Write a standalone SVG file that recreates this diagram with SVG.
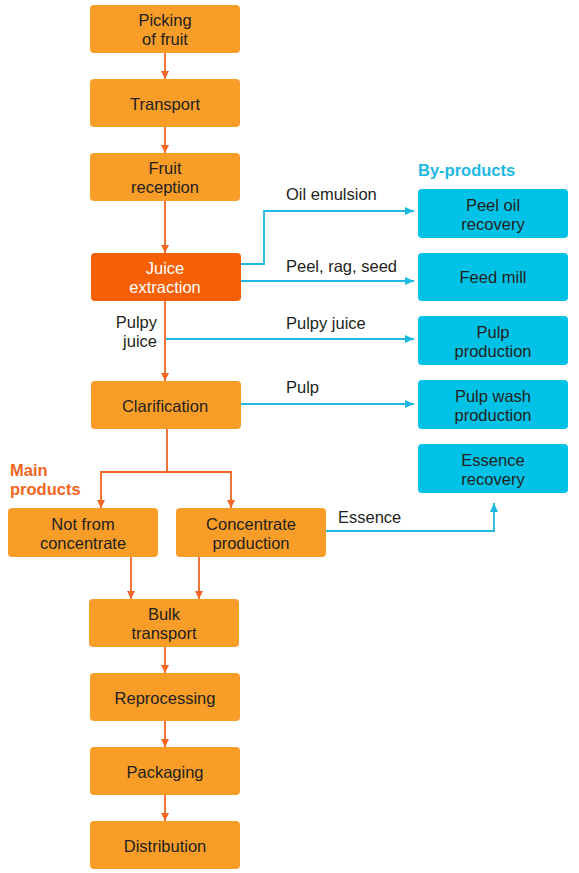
<svg xmlns="http://www.w3.org/2000/svg" width="579" height="873" viewBox="0 0 579 873">
<defs>
<style>
.bo{fill:#F89D27;}
.bx{fill:#F65F04;}
.bc{fill:#00C2E6;}
text{font-family:"Liberation Sans",Arial,sans-serif;font-size:16.5px;fill:#231F20;}
.c{text-anchor:middle;}
.w{fill:#FFFFFF;}
.ol{stroke:#F26522;stroke-width:1.8;fill:none;}
.cl{stroke:#1DB9E2;stroke-width:1.8;fill:none;}
.ho{fill:#F26522;font-weight:bold;}
.hc{fill:#1DB9E2;font-weight:bold;}
</style>
<marker id="ao" markerWidth="8" markerHeight="8" refX="8" refY="4" orient="auto" markerUnits="userSpaceOnUse"><path d="M0,0 L8,4 L0,8 Z" fill="#F26522"/></marker>
<marker id="ac" markerWidth="9" markerHeight="8" refX="9" refY="4" orient="auto" markerUnits="userSpaceOnUse"><path d="M0,0 L9,4 L0,8 Z" fill="#1DB9E2"/></marker>
</defs>
<rect width="579" height="873" fill="#FFFFFF"/>
<g id="connectors">
<line class="ol" x1="165" y1="53" x2="165" y2="79" marker-end="url(#ao)"/>
<line class="ol" x1="165" y1="127" x2="165" y2="153" marker-end="url(#ao)"/>
<line class="ol" x1="165" y1="201" x2="165" y2="253" marker-end="url(#ao)"/>
<line class="ol" x1="165" y1="301" x2="165" y2="381" marker-end="url(#ao)"/>
<polyline class="ol" points="167,429 167,472 101,472 101,508" marker-end="url(#ao)"/>
<polyline class="ol" points="167,472 231,472 231,508" marker-end="url(#ao)"/>
<line class="ol" x1="131" y1="557" x2="131" y2="599" marker-end="url(#ao)"/>
<line class="ol" x1="199" y1="557" x2="199" y2="599" marker-end="url(#ao)"/>
<line class="ol" x1="165" y1="647" x2="165" y2="673" marker-end="url(#ao)"/>
<line class="ol" x1="165" y1="721" x2="165" y2="747" marker-end="url(#ao)"/>
<line class="ol" x1="165" y1="795" x2="165" y2="821" marker-end="url(#ao)"/>
<polyline class="cl" points="241,264 264,264 264,211 414,211" marker-end="url(#ac)"/>
<line class="cl" x1="241" y1="281" x2="414" y2="281" marker-end="url(#ac)"/>
<line class="cl" x1="166" y1="339" x2="414" y2="339" marker-end="url(#ac)"/>
<line class="cl" x1="241" y1="404" x2="414" y2="404" marker-end="url(#ac)"/>
<polyline class="cl" points="326,531 494,531 494,503" marker-end="url(#ac)"/>
<text x="286" y="200">Oil emulsion</text>
<text x="286" y="272">Peel, rag, seed</text>
<text x="286" y="329">Pulpy juice</text>
<text x="286" y="393">Pulp</text>
<text x="338" y="523">Essence</text>
<text text-anchor="end"><tspan x="157" y="328">Pulpy</tspan><tspan x="157" y="347">juice</tspan></text>
</g>
<text class="hc" x="418" y="176">By-products</text>
<text class="ho"><tspan x="10" y="476">Main</tspan><tspan x="10" y="495">products</tspan></text>
<g id="n-picking"><rect class="bo" x="90" y="5" width="150" height="48" rx="4"/><text class="c"><tspan x="165" y="26">Picking</tspan><tspan x="165" y="45">of fruit</tspan></text></g>
<g id="n-transport"><rect class="bo" x="90" y="79" width="150" height="48" rx="4"/><text class="c" x="165" y="110">Transport</text></g>
<g id="n-reception"><rect class="bo" x="90" y="153" width="150" height="48" rx="4"/><text class="c"><tspan x="165" y="174">Fruit</tspan><tspan x="165" y="193">reception</tspan></text></g>
<g id="n-extraction"><rect class="bx" x="91" y="253" width="150" height="48" rx="4"/><text class="c w"><tspan x="165" y="274">Juice</tspan><tspan x="165" y="293">extraction</tspan></text></g>
<g id="n-clarification"><rect class="bo" x="91" y="381" width="150" height="48" rx="4"/><text class="c" x="165" y="412">Clarification</text></g>
<g id="n-nfc"><rect class="bo" x="8" y="508" width="150" height="49" rx="4"/><text class="c"><tspan x="83" y="530">Not from</tspan><tspan x="83" y="549">concentrate</tspan></text></g>
<g id="n-concentrate"><rect class="bo" x="176" y="508" width="150" height="49" rx="4"/><text class="c"><tspan x="251" y="530">Concentrate</tspan><tspan x="251" y="549">production</tspan></text></g>
<g id="n-bulk"><rect class="bo" x="89" y="599" width="150" height="48" rx="4"/><text class="c"><tspan x="164" y="620">Bulk</tspan><tspan x="164" y="639">transport</tspan></text></g>
<g id="n-reprocessing"><rect class="bo" x="90" y="673" width="150" height="48" rx="4"/><text class="c" x="165" y="704">Reprocessing</text></g>
<g id="n-packaging"><rect class="bo" x="90" y="747" width="150" height="48" rx="4"/><text class="c" x="165" y="778">Packaging</text></g>
<g id="n-distribution"><rect class="bo" x="90" y="821" width="150" height="48" rx="4"/><text class="c" x="165" y="852">Distribution</text></g>
<g id="n-peeloil"><rect class="bc" x="418" y="189" width="150" height="49" rx="4"/><text class="c"><tspan x="493" y="211">Peel oil</tspan><tspan x="493" y="230">recovery</tspan></text></g>
<g id="n-feedmill"><rect class="bc" x="418" y="253" width="150" height="48" rx="4"/><text class="c" x="493" y="283">Feed mill</text></g>
<g id="n-pulp"><rect class="bc" x="418" y="316" width="150" height="49" rx="4"/><text class="c"><tspan x="493" y="338">Pulp</tspan><tspan x="493" y="357">production</tspan></text></g>
<g id="n-pulpwash"><rect class="bc" x="418" y="380" width="150" height="49" rx="4"/><text class="c"><tspan x="493" y="402">Pulp wash</tspan><tspan x="493" y="421">production</tspan></text></g>
<g id="n-essence"><rect class="bc" x="418" y="444" width="150" height="49" rx="4"/><text class="c"><tspan x="493" y="466">Essence</tspan><tspan x="493" y="485">recovery</tspan></text></g>
</svg>
